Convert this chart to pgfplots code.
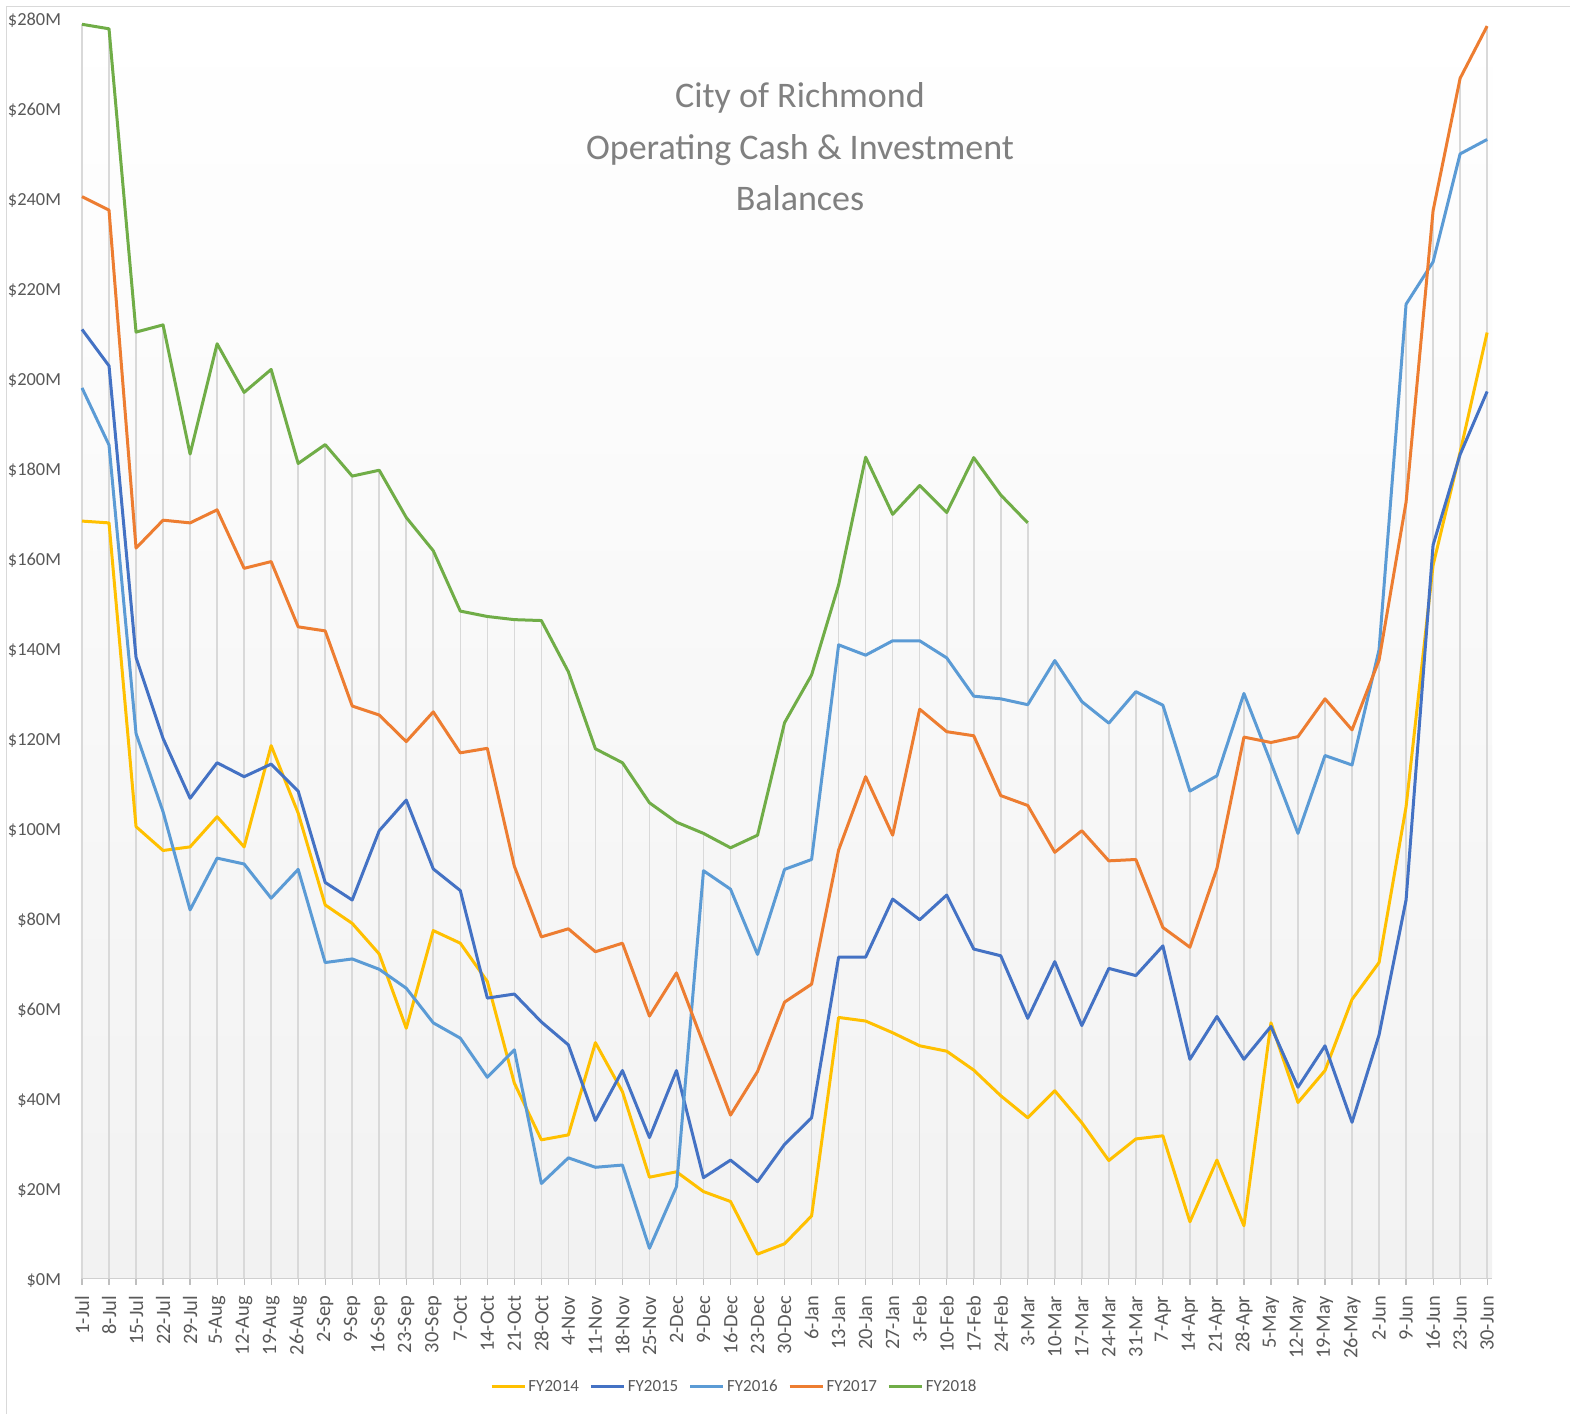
\documentclass[border=0pt]{standalone}
\usepackage{pgfplots}
\pgfplotsset{compat=1.18}
\usepackage{pgfplotstable}
\usepackage{fontspec}
\setmainfont{Carlito}
\definecolor{cA}{HTML}{FFC000}
\definecolor{cB}{HTML}{4472C4}
\definecolor{cC}{HTML}{5B9BD5}
\definecolor{cD}{HTML}{ED7D31}
\definecolor{cE}{HTML}{70AD47}
\definecolor{dropgray}{HTML}{D9D9D9}
\definecolor{axgray}{HTML}{D0D0D0}
\definecolor{tickgray}{HTML}{BFBFBF}
\definecolor{labgray}{HTML}{595959}
\definecolor{titlegray}{HTML}{808080}
\definecolor{bgbot}{HTML}{F2F2F2}

\pgfplotstableread{
i a b c d e
0 168.2 210.8 197.8 240.3 278.6
1 167.8 202.7 185.1 237.3 277.6
2 100.3 137.9 121.0 162.2 210.2
3 95.0 119.9 103.6 168.4 211.8
4 95.8 106.6 81.8 167.8 183.1
5 102.5 114.5 93.3 170.7 207.6
6 95.8 111.4 92.0 157.7 196.8
7 118.3 114.2 84.4 159.2 201.9
8 103.3 108.2 90.8 144.7 181.0
9 82.9 87.9 70.1 143.8 185.2
10 78.8 84.0 70.9 127.1 178.2
11 72.0 99.4 68.6 125.1 179.5
12 55.5 106.2 64.4 119.2 169.0
13 77.2 90.9 56.7 125.8 161.6
14 74.4 86.1 53.3 116.7 148.2
15 65.9 62.2 44.6 117.7 147.0
16 43.3 63.1 50.7 91.5 146.3
17 30.7 56.9 21.0 75.8 146.1
18 31.8 51.8 26.7 77.6 134.7
19 52.3 35.0 24.6 72.5 117.6
20 41.4 46.1 25.1 74.4 114.5
21 22.4 31.2 6.6 58.2 105.6
22 23.6 46.1 20.3 67.8 101.3
23 19.2 22.3 90.5 52.0 98.8
24 17.0 26.2 86.4 36.2 95.6
25 5.3 21.4 71.9 45.9 98.4
26 7.6 29.7 90.8 61.3 123.4
27 13.8 35.6 93.0 65.3 134.0
28 57.9 71.3 140.7 95.1 154.0
29 57.1 71.3 138.4 111.4 182.4
30 54.5 84.2 141.6 98.4 169.7
31 51.6 79.6 141.6 126.4 176.1
32 50.4 85.1 137.8 121.4 170.1
33 46.2 73.1 129.3 120.5 182.3
34 40.5 71.6 128.7 107.2 174.0
35 35.6 57.7 127.4 105.0 167.8
36 41.6 70.3 137.2 94.6 nan
37 34.5 56.1 128.1 99.4 nan
38 26.1 68.8 123.3 92.7 nan
39 30.9 67.2 130.3 93.0 nan
40 31.6 73.8 127.3 77.9 nan
41 12.5 48.6 108.2 73.5 nan
42 26.2 58.1 111.6 91.0 nan
43 11.6 48.6 129.9 120.2 nan
44 56.7 55.9 114.5 119.0 nan
45 39.0 42.4 98.8 120.3 nan
46 46.1 51.6 116.1 128.7 nan
47 61.9 34.6 114.0 121.8 nan
48 70.1 54.0 139.6 137.3 nan
49 104.7 84.0 216.4 172.4 nan
50 158.4 162.9 225.8 237.2 nan
51 183.5 183.0 249.8 266.6 nan
52 210.1 197.0 253.0 278.2 nan
}\data

\begin{document}
\begin{tikzpicture}
\useasboundingbox (0,0) rectangle (785pt,707pt);
\fill[white] (0,0) rectangle (785pt,707pt);
\draw[color=dropgray, line width=0.8pt] (3.25pt,-10pt) -- (3.25pt,703.75pt) -- (800pt,703.75pt);
\begin{axis}[
  at={(40.5pt,68pt)}, anchor=south west,
  scale only axis, width=705.5pt, height=630pt,
  xmin=-0.037, xmax=52.18, ymin=0, ymax=280,
  axis x line*=bottom, axis y line*=left,
  x axis line style={draw=axgray, line width=0.8pt, -},
  y axis line style={draw=none},
  tick align=outside,
  major tick length=3.3pt,
  xtick style={draw=tickgray, line width=0.6pt},
  ytick style={draw=none},
  xtick={0,...,52},
  xticklabels={1-Jul,8-Jul,15-Jul,22-Jul,29-Jul,5-Aug,12-Aug,19-Aug,26-Aug,2-Sep,9-Sep,16-Sep,23-Sep,30-Sep,7-Oct,14-Oct,21-Oct,28-Oct,4-Nov,11-Nov,18-Nov,25-Nov,2-Dec,9-Dec,16-Dec,23-Dec,30-Dec,6-Jan,13-Jan,20-Jan,27-Jan,3-Feb,10-Feb,17-Feb,24-Feb,3-Mar,10-Mar,17-Mar,24-Mar,31-Mar,7-Apr,14-Apr,21-Apr,28-Apr,5-May,12-May,19-May,26-May,2-Jun,9-Jun,16-Jun,23-Jun,30-Jun},
  xticklabel style={rotate=90, anchor=east, inner sep=0pt, font=\fontsize{10.2}{12}\selectfont, text=labgray},
  xticklabel shift=5.5pt,
  ytick={0,20,...,280},
  yticklabels={\$0M,\$20M,\$40M,\$60M,\$80M,\$100M,\$120M,\$140M,\$160M,\$180M,\$200M,\$220M,\$240M,\$260M,\$280M},
  yticklabel style={anchor=east, inner sep=0pt, font=\fontsize{9.2}{11}\selectfont, text=labgray, yshift=-1.2pt},
  yticklabel shift=6.5pt,
  unbounded coords=jump,
  legend columns=5,
  legend style={at={(0.4631,-0.0865)}, anchor=center, draw=none, fill=none,
    font=\fontsize{8.5}{10}\selectfont, text=labgray,
    /tikz/every even column/.append style={column sep=4pt},
    nodes={inner sep=1.2pt}},
  legend image code/.code={\draw[#1, line width=1.5pt] (0pt,0pt) -- (16.5pt,0pt);},
]
\fill[top color=white, bottom color=bgbot] (rel axis cs:0,0) rectangle (rel axis cs:1,1);
\addplot[ycomb, dropgray, line width=0.8pt, no markers, forget plot] table[x=i, y=a] {\data};
\addplot[ycomb, dropgray, line width=0.8pt, no markers, forget plot] table[x=i, y=b] {\data};
\addplot[ycomb, dropgray, line width=0.8pt, no markers, forget plot] table[x=i, y=c] {\data};
\addplot[ycomb, dropgray, line width=0.8pt, no markers, forget plot] table[x=i, y=d] {\data};
\addplot[ycomb, dropgray, line width=0.8pt, no markers, forget plot] table[x=i, y=e] {\data};
\addplot[cA, line width=1.5pt, line join=round, no markers] table[x=i, y=a] {\data};
\addlegendentry{FY2014}
\addplot[cB, line width=1.5pt, line join=round, no markers] table[x=i, y=b] {\data};
\addlegendentry{FY2015}
\addplot[cC, line width=1.5pt, line join=round, no markers] table[x=i, y=c] {\data};
\addlegendentry{FY2016}
\addplot[cD, line width=1.5pt, line join=round, no markers] table[x=i, y=d] {\data};
\addlegendentry{FY2017}
\addplot[cE, line width=1.5pt, line join=round, no markers] table[x=i, y=e] {\data};
\addlegendentry{FY2018}
\end{axis}
\node[align=center, text=titlegray, font=\fontsize{18}{25.75}\selectfont] at (400pt,633.5pt)
  {City of Richmond\\Operating Cash \& Investment\\Balances};
\end{tikzpicture}
\end{document}
